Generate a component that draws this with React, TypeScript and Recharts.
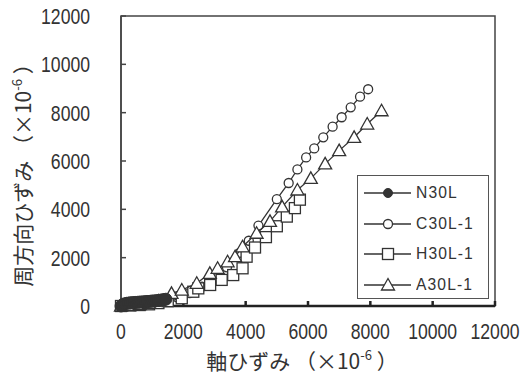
import React from "react";
import { ScatterChart, Scatter, XAxis, YAxis, ReferenceArea, Legend, Label } from "recharts";

const X_TICKS = [0, 2000, 4000, 6000, 8000, 10000, 12000];
const Y_TICKS = [0, 2000, 4000, 6000, 8000, 10000, 12000];

// N30L (dense cluster near the origin)
const nX = [0, 60, 120, 180, 240, 300, 360, 420, 480, 540, 600, 660, 720, 780, 840, 900, 960, 1020, 1080, 1140, 1200, 1260, 1320, 1380, 1440];
const nY = [0, 60, 90, 110, 120, 130, 135, 140, 150, 155, 160, 165, 170, 180, 185, 190, 200, 205, 210, 220, 230, 240, 250, 265, 280];

// C30L-1
const cX = [0, 300, 600, 900, 1200, 1500, 1800, 2200, 2600, 3000, 3400, 3800, 4100, 4410, 5000, 5380, 5660, 5940, 6200, 6490, 6790, 7080, 7370, 7670, 7930];
const cY = [0, 20, 50, 90, 140, 230, 360, 530, 800, 1150, 1600, 2200, 2700, 3330, 4420, 5090, 5650, 6150, 6520, 6980, 7420, 7810, 8220, 8660, 8970];

// H30L-1
const hX = [0, 300, 600, 900, 1200, 1500, 1950, 2320, 2480, 2860, 3230, 3600, 3900, 4030, 4300, 4650, 5000, 5320, 5580, 5740];
const hY = [0, 20, 40, 70, 120, 200, 320, 590, 730, 870, 1080, 1280, 1560, 2040, 2420, 2850, 3300, 3700, 4050, 4400];

// A30L-1
const aX = [0, 300, 600, 900, 1200, 1620, 1950, 2430, 2850, 3100, 3420, 3660, 3900, 4350, 4780, 5170, 5660, 6090, 6550, 7000, 7480, 7900, 8360];
const aY = [0, 30, 60, 110, 200, 520, 660, 940, 1350, 1560, 1830, 2040, 2450, 3010, 3500, 4100, 4800, 5280, 5880, 6430, 6980, 7530, 8080];

const SERIES = ["N30L", "C30L-1", "H30L-1", "A30L-1"];

const toPts = (xs: number[], ys: number[]) => xs.map((x, i) => ({ x, y: ys[i] }));

const INK = "#333";
const NUM_FONT = "'Liberation Sans', Arial, sans-serif";
const JP_FONT = "'Noto Sans CJK JP', sans-serif";

const FilledDot = (p: any) => <circle cx={p.cx} cy={p.cy} r={p.r ?? 6} fill={INK} stroke={INK} strokeWidth={1} />;
const OpenDot = (p: any) => <circle cx={p.cx} cy={p.cy} r={4.5} fill="#fff" stroke={INK} strokeWidth={1.3} />;
const OpenSquare = (p: any) => <rect x={p.cx - 5.5} y={p.cy - 5.5} width={11} height={11} fill="#fff" stroke={INK} strokeWidth={1.3} />;
const OpenTri = (p: any) => (
  <polygon points={`${p.cx},${p.cy - 6.5} ${p.cx + 6.5},${p.cy + 5} ${p.cx - 6.5},${p.cy + 5}`} fill="#fff" stroke={INK} strokeWidth={1.3} />
);

const SHAPES = [FilledDot, OpenDot, OpenSquare, OpenTri];

// narrow-looking numbers: squeeze horizontally
const NarrowTick = (props: any) => {
  const { x, y, payload, textAnchor, side } = props;
  const dy = side === "x" ? 15 : 8;
  return (
    <g transform={`translate(${x},${y}) scale(0.8,1)`}>
      <text x={0} y={0} dy={dy} textAnchor={textAnchor} fill={INK} fontSize={22} fontFamily={NUM_FONT}>
        {payload.value}
      </text>
    </g>
  );
};

function LegendBox() {
  return (
    <div style={{ width: 132, height: 124, border: "1.5px solid #555", background: "#fff", boxSizing: "border-box", paddingTop: 2 }}>
      {SERIES.map((name, i) => {
        const Shape = SHAPES[i];
        return (
          <div key={name} style={{ display: "flex", alignItems: "center", height: 30.5 }}>
            <svg width={52} height={20} style={{ marginLeft: 4 }}>
              <line x1={2} x2={49} y1={10} y2={10} stroke={INK} strokeWidth={1.3} />
              <Shape cx={26} cy={10} r={4.5} />
            </svg>
            <span style={{ fontFamily: NUM_FONT, fontSize: 17, color: INK, letterSpacing: 1.2, marginLeft: 2, display: "inline-block", transform: "scaleX(0.92)", transformOrigin: "left center" }}>{name}</span>
          </div>
        );
      })}
    </div>
  );
}

const XTitle = (props: any) => {
  const { x, width } = props.viewBox;
  return (
    <text x={x + width / 2 - 6} y={369} textAnchor="middle" fill={INK} fontFamily={JP_FONT} fontSize={21}>
      軸ひずみ （×10<tspan dy={-9} fontSize={13}>-6</tspan><tspan dy={9}> ）</tspan>
    </text>
  );
};

const YTitle = (props: any) => {
  const { y, height } = props.viewBox;
  const cx = 31;
  const cy = y + height / 2 + 9;
  return (
    <text x={cx} y={cy} transform={`rotate(-90 ${cx} ${cy})`} textAnchor="middle" fill={INK} fontFamily={JP_FONT} fontSize={21}>
      周方向ひずみ （×10<tspan dy={-9} fontSize={13}>-6</tspan><tspan dy={9}> ）</tspan>
    </text>
  );
};

export default function App() {
  return (
    <div style={{ position: "absolute", left: 0, top: 0, background: "#fff" }}>
      <ScatterChart width={531} height={379} margin={{ top: 16, right: 36, left: 0, bottom: 0 }}>
        <ReferenceArea x1={0} x2={12000} y1={0} y2={12000} fill="none" stroke="#444" strokeWidth={1.5} ifOverflow="visible" />
        <XAxis type="number" dataKey="x" domain={[0, 12000]} ticks={X_TICKS} height={73}
          tick={<NarrowTick side="x" />} tickSize={-5} tickMargin={23} stroke="#222" strokeWidth={2.5} interval={0}>
          <Label content={<XTitle />} />
        </XAxis>
        <YAxis type="number" dataKey="y" domain={[0, 12000]} ticks={Y_TICKS} width={121}
          tick={<NarrowTick side="y" />} tickSize={-5} tickMargin={36} stroke="#444" strokeWidth={1.5} interval={0}>
          <Label content={<YTitle />} />
        </YAxis>
        <Legend verticalAlign="middle" align="center" layout="vertical"
          wrapperStyle={{ position: "absolute", left: 357, top: 175, width: 132, height: 124 }}
          content={() => <LegendBox />} />
        <Scatter name="C30L-1" data={toPts(cX, cY)} line={{ stroke: INK, strokeWidth: 1.3 }} shape={OpenDot} isAnimationActive={false} />
        <Scatter name="H30L-1" data={toPts(hX, hY)} line={{ stroke: INK, strokeWidth: 1.3 }} shape={OpenSquare} isAnimationActive={false} />
        <Scatter name="A30L-1" data={toPts(aX, aY)} line={{ stroke: INK, strokeWidth: 1.3 }} shape={OpenTri} isAnimationActive={false} />
        {/* drawn last so the filled cluster covers the other series near the origin */}
        <Scatter name="N30L" data={toPts(nX, nY)} line={{ stroke: INK, strokeWidth: 1.3 }} shape={FilledDot} isAnimationActive={false} />
      </ScatterChart>
    </div>
  );
}
